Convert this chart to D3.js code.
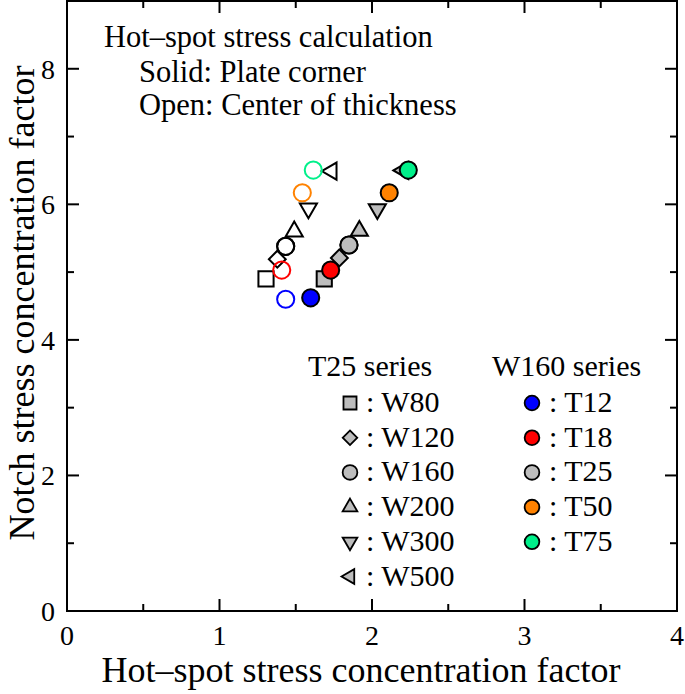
<!DOCTYPE html>
<html>
<head>
<meta charset="utf-8">
<script src="https://cdn.jsdelivr.net/npm/d3@7"></script>
<style>
  html, body { margin: 0; padding: 0; background: #fff; }
</style>
</head>
<body>
<svg id="chart" width="685" height="694"></svg>
<script>
// ---- Data ----
// T25 series (width variation)
const t25Labels = ["W80", "W120", "W160", "W200", "W300", "W500"];
const t25Shapes = ["square", "diamond", "circle", "triUp", "triDown", "triLeft"];
const t25SolidX = [1.687, 1.786, 1.849, 1.917, 2.035, 2.205];
const t25SolidY = [4.90, 5.21, 5.40, 5.61, 5.93, 6.50];
const t25OpenX  = [1.305, 1.379, 1.434, 1.490, 1.583, 1.735];
const t25OpenY  = [4.90, 5.19, 5.38, 5.60, 5.94, 6.49];

// W160 series (thickness variation)
const w160Labels = ["T12", "T18", "T25", "T50", "T75"];
const w160Colors = ["#0000ff", "#ff0000", "#bdbdbd", "#ff8200", "#00f08a"];
const w160OpenStroke = ["#0000ff", "#ff0000", "#000000", "#ff8200", "#00f08a"];
const w160SolidX = [1.598, 1.729, 1.849, 2.113, 2.238];
const w160SolidY = [4.62, 5.03, 5.40, 6.17, 6.505];
const w160OpenX  = [1.434, 1.408, 1.434, 1.543, 1.615];
const w160OpenY  = [4.60, 5.03, 5.38, 6.17, 6.505];

const xTicks = [0, 1, 2, 3, 4];
const yTicks = [0, 2, 4, 6, 8];
const xMinor = [0.5, 1.5, 2.5, 3.5];
const yMinor = [1, 3, 5, 7];

const titleLines = ["Hot\u2013spot stress calculation", "Solid: Plate corner", "Open: Center of thickness"];
const xLabel = "Hot\u2013spot stress concentration factor";
const yLabel = "Notch stress concentration factor";

// ---- Layout ----
const FONT = "'Liberation Serif', Tinos, 'Times New Roman', Times, 'DejaVu Serif', serif";
const svg = d3.select("#chart").attr("font-family", FONT);
const L = 67, R = 677, T = 1, B = 611;
const x = d3.scaleLinear().domain([0, 4]).range([L, R]);
const y = d3.scaleLinear().domain([0, 9]).range([B, T]);

const gray = "#bdbdbd";

function symPath(shape, size) {
  switch (shape) {
    case "square": return { d: d3.symbol(d3.symbolSquare, size)(), rot: 0 };
    case "diamond": return { d: d3.symbol(d3.symbolSquare, size * 0.62)(), rot: 45 };
    case "circle": return { d: d3.symbol(d3.symbolCircle, size)(), rot: 0 };
    case "triUp": return { d: d3.symbol(d3.symbolTriangle, size * 0.55)(), rot: 0 };
    case "triDown": return { d: d3.symbol(d3.symbolTriangle, size * 0.55)(), rot: 180 };
    case "triLeft": return { d: d3.symbol(d3.symbolTriangle, size * 0.55)(), rot: -90 };
  }
}

// ---- Axes (inward ticks on all four sides) ----
const axG = svg.append("g");
const majorLen = 12, minorLen = 7;
function tickLines(vals, len, isX) {
  vals.forEach(v => {
    if (isX) {
      axG.append("line").attr("x1", x(v)).attr("x2", x(v)).attr("y1", B).attr("y2", B - len);
      axG.append("line").attr("x1", x(v)).attr("x2", x(v)).attr("y1", T).attr("y2", T + len);
    } else {
      axG.append("line").attr("y1", y(v)).attr("y2", y(v)).attr("x1", L).attr("x2", L + len);
      axG.append("line").attr("y1", y(v)).attr("y2", y(v)).attr("x1", R).attr("x2", R - len);
    }
  });
}
tickLines(xTicks, majorLen, true);
tickLines(xMinor, minorLen, true);
tickLines(yTicks, majorLen, false);
tickLines(yMinor, minorLen, false);
axG.selectAll("line").attr("stroke", "#000").attr("stroke-width", 2);

axG.append("rect").attr("x", L).attr("y", T).attr("width", R - L).attr("height", B - T)
  .attr("fill", "none").attr("stroke", "#000").attr("stroke-width", 2);

svg.append("g").selectAll("text").data(xTicks).join("text")
  .attr("x", d => x(d)).attr("y", 645).attr("text-anchor", "middle")
  .attr("font-size", 28).text(d => d);
svg.append("g").selectAll("text").data(yTicks).join("text")
  .attr("x", 55).attr("y", d => y(d) + 10).attr("text-anchor", "end")
  .attr("font-size", 28).text(d => d);

svg.append("text").attr("x", 361).attr("y", 682).attr("text-anchor", "middle")
  .attr("font-size", 36).text(xLabel);
svg.append("text").attr("transform", `translate(34,303) rotate(-90)`)
  .attr("text-anchor", "middle").attr("font-size", 36).text(yLabel);

// ---- Title block ----
const tx = [104, 139, 139], ty = [47, 82, 115];
titleLines.forEach((t, i) => {
  svg.append("text").attr("x", tx[i]).attr("y", ty[i]).attr("font-size", 30.5).text(t);
});

// ---- Data marks ----
const MS = 230; // marker area
const marks = svg.append("g");
t25Labels.forEach((lab, i) => {
  const s = symPath(t25Shapes[i], MS);
  marks.append("path").attr("d", s.d)
    .attr("transform", `translate(${x(t25OpenX[i])},${y(t25OpenY[i])}) rotate(${s.rot})`)
    .attr("fill", "none").attr("stroke", "#000").attr("stroke-width", 2);
});
t25Labels.forEach((lab, i) => {
  const s = symPath(t25Shapes[i], MS);
  marks.append("path").attr("d", s.d)
    .attr("transform", `translate(${x(t25SolidX[i])},${y(t25SolidY[i])}) rotate(${s.rot})`)
    .attr("fill", gray).attr("stroke", "#000").attr("stroke-width", 2);
});
w160Labels.forEach((lab, i) => {
  const s = symPath("circle", MS);
  marks.append("path").attr("d", s.d)
    .attr("transform", `translate(${x(w160OpenX[i])},${y(w160OpenY[i])})`)
    .attr("fill", "none").attr("stroke", w160OpenStroke[i]).attr("stroke-width", 2);
});
w160Labels.forEach((lab, i) => {
  const s = symPath("circle", MS);
  marks.append("path").attr("d", s.d)
    .attr("transform", `translate(${x(w160SolidX[i])},${y(w160SolidY[i])})`)
    .attr("fill", w160Colors[i]).attr("stroke", "#000").attr("stroke-width", 2);
});

// ---- Legend ----
const leg = svg.append("g");
const LS = 170, rowH = 34.7, row0 = 412;
leg.append("text").attr("x", 308).attr("y", 376).attr("font-size", 30).text("T25 series");
leg.append("text").attr("x", 492).attr("y", 376).attr("font-size", 30).text("W160 series");
t25Labels.forEach((lab, i) => {
  const s = symPath(t25Shapes[i], LS);
  const by = row0 + i * rowH;
  leg.append("path").attr("d", s.d)
    .attr("transform", `translate(350,${by - 9}) rotate(${s.rot})`)
    .attr("fill", gray).attr("stroke", "#000").attr("stroke-width", 1.8);
  leg.append("text").attr("x", 366).attr("y", by).attr("font-size", 30).text(": " + lab);
});
w160Labels.forEach((lab, i) => {
  const s = symPath("circle", LS);
  const by = row0 + i * rowH;
  leg.append("path").attr("d", s.d)
    .attr("transform", `translate(532,${by - 9})`)
    .attr("fill", w160Colors[i]).attr("stroke", "#000").attr("stroke-width", 1.8);
  leg.append("text").attr("x", 549).attr("y", by).attr("font-size", 30).text(": " + lab);
});
</script>
</body>
</html>
